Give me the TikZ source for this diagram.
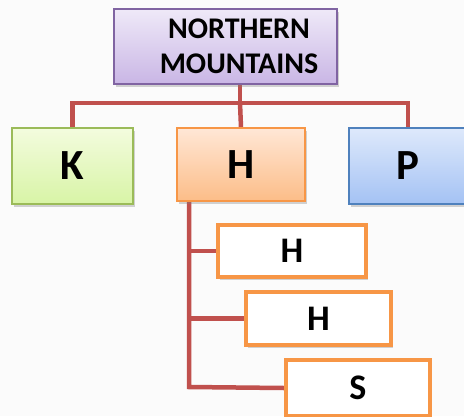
\documentclass[tikz,border=0pt]{standalone}
\usepackage{fontspec}
\setmainfont{Carlito}
\usetikzlibrary{shadows,backgrounds}
\definecolor{conn}{HTML}{C0504D}
\definecolor{orangeB}{HTML}{F79646}
\definecolor{greenB}{HTML}{9BBB59}
\definecolor{blueB}{HTML}{4F81BD}
\definecolor{purpleB}{HTML}{8064A2}
\definecolor{bgc}{HTML}{FBFBFB}
\definecolor{topT}{HTML}{EFE9F8}\definecolor{topB}{HTML}{C9B6E5}
\definecolor{kT}{HTML}{F3FCDE}\definecolor{kB}{HTML}{D8F4A6}
\definecolor{hT}{HTML}{FFE7D6}\definecolor{hB}{HTML}{FCBD88}
\definecolor{pT}{HTML}{DEE9FB}\definecolor{pB}{HTML}{A4C2F4}
\tikzset{
  shd/.style={drop shadow={opacity=0.35,shadow xshift=1.5pt,shadow yshift=-2.5pt}},
  topbox/.style={draw=purpleB,line width=1.5pt,shd,top color=topT,bottom color=topB,minimum width=223pt,minimum height=75pt,inner sep=0pt},
  kbox/.style={draw=greenB,line width=1.5pt,shd,top color=kT,bottom color=kB,minimum width=121pt,minimum height=76pt,inner sep=0pt},
  hbox/.style={draw=orangeB,line width=1.5pt,shd,top color=hT,bottom color=hB,minimum width=128pt,minimum height=73pt,inner sep=0pt},
  pbox/.style={draw=blueB,line width=1.5pt,shd,top color=pT,bottom color=pB,minimum width=125pt,minimum height=76pt,inner sep=0pt},
  subbox/.style={draw=orangeB,line width=4pt,fill=white,shd,inner sep=0pt},
  lbl/.style={font=\bfseries\fontsize{43}{48}\selectfont},
  slbl/.style={font=\bfseries\fontsize{36}{40}\selectfont},
  tlbl/.style={font=\bfseries\fontsize{30}{35}\selectfont,align=center},
  link/.style={draw=conn,line width=4.5pt}
}
\begin{document}
\begin{tikzpicture}[x=1pt,y=-1pt]
\useasboundingbox (0,0) rectangle (464,416);
\clip (0,0) rectangle (464,416);
\node[topbox] (top) at (225.5,46.5) {};
\node[tlbl] (toptext) at (239,46) {NORTHERN\\MOUNTAINS};
\node[kbox,lbl] (k) at (72.5,166) {K};
\node[hbox,lbl] (h) at (241,164.5) {H};
\node[pbox,lbl] (p) at (411.5,166) {};
\node[lbl] (ptext) at (408,166) {P};
\node[subbox,minimum width=148pt,minimum height=52pt,slbl] (s1) at (292,251) {H};
\node[subbox,minimum width=145pt,minimum height=53pt,slbl] (s2) at (318.5,318.5) {H};
\node[subbox,minimum width=144pt,minimum height=56pt,slbl] (s3) at (358,388) {S};
\coordinate (hub) at (240,103);
\coordinate (trunk) at (189,387);
\begin{scope}[on background layer]
\fill[bgc] (0,0) rectangle (464,416);
\draw[link] (top.south -| hub) -- (hub);
\draw[link] (k.north) |- (hub) -| (p.north -| 408,0);
\draw[link] (hub) -- (h.north);
\draw[link] (h.south -| trunk) -- (trunk) -- (s3.west);
\draw[link] (s1.west) -- (s1.west -| trunk);
\draw[link] (s2.west) -- (s2.west -| trunk);
\end{scope}
\end{tikzpicture}
\end{document}
